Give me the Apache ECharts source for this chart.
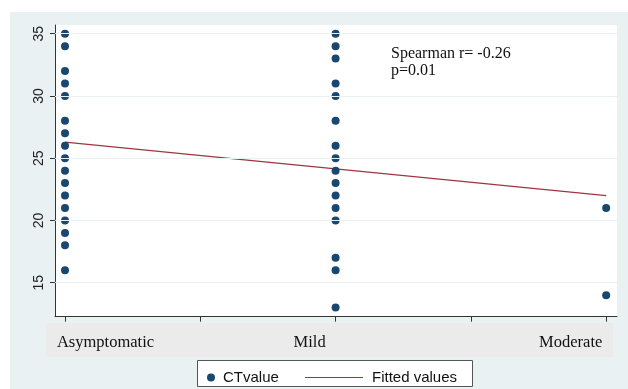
<!DOCTYPE html>
<html><head><meta charset="utf-8">
<script src="https://cdn.jsdelivr.net/npm/echarts@6/dist/echarts.min.js"></script>
<style>html,body{margin:0;padding:0;background:#fff}#c{width:628px;height:389px}</style>
</head><body><div id="c"></div>
<script>
const categories = ['Asymptomatic', 'Mild', 'Moderate'];
const asymptomaticCT = [35, 34, 32, 31, 30, 28, 27, 26, 25, 24, 23, 22, 21, 20, 19, 18, 16];
const mildCT = [35, 34, 33, 31, 30, 28, 26, 25, 24, 23, 22, 21, 20, 17, 16, 13];
const moderateCT = [21, 14];
const fittedX = [1, 3];
const fittedY = [26.3, 22.0];
const yTicks = [15, 20, 25, 30, 35];
const xTicks = [1, 1.5, 2, 2.5, 3];
const annotation = ['Spearman r= -0.26', 'p=0.01'];

const scatterData = [];
[asymptomaticCT, mildCT, moderateCT].forEach((arr, i) => arr.forEach(v => scatterData.push([i + 1, v])));
const fitData = fittedX.map((x, i) => [x, fittedY[i]]);
const labelStyleKeys = ['a', 'b', 'c'];
const labelFont = {fontFamily: 'Liberation Serif', fontSize: 16.5, color: '#111'};

const chart = echarts.init(document.getElementById('c'), null, {renderer: 'canvas'});
chart.setOption({
  backgroundColor: '#ffffff',
  animation: false,
  graphic: [
    {type: 'rect', z: -100, shape: {x: 10, y: 12, width: 618, height: 377}, style: {fill: '#e9f1f3'}},
    {type: 'rect', z: -50, shape: {x: 46, y: 323, width: 567, height: 34}, style: {fill: '#ebebeb'}},
    {type: 'rect', z: -40, shape: {x: 197.5, y: 360.5, width: 275, height: 26}, style: {fill: '#ffffff', stroke: '#555', lineWidth: 1}},
    {type: 'text', left: 391, top: 45, style: {text: annotation.join('\n'), font: '16px "Liberation Serif"', fill: '#111', lineHeight: 17}}
  ],
  grid: {left: 55, top: 25, right: 11, bottom: 72.3, show: true, backgroundColor: '#ffffff', borderWidth: 0,
    outerBoundsMode: 'none', containLabel: false},
  xAxis: {
    type: 'value', min: 0.963, max: 3.04,
    axisLine: {show: true, lineStyle: {color: '#333', width: 1}},
    axisTick: {show: true, length: 5, customValues: xTicks, lineStyle: {color: '#333'}},
    axisLabel: {customValues: [1, 2, 3], margin: 17, hideOverlap: false,
      formatter: v => { const i = Math.round(v) - 1; return categories[i] ? '{' + labelStyleKeys[i] + '|' + categories[i] + '}' : ''; },
      rich: {
        a: Object.assign({padding: [0, 0, 0, 81]}, labelFont),
        b: Object.assign({padding: [0, 52, 0, 0]}, labelFont),
        c: Object.assign({padding: [0, 71, 0, 0]}, labelFont)
      },
      ...labelFont},
    splitLine: {show: false}
  },
  yAxis: {
    type: 'value', min: 12.27, max: 35.7,
    axisLine: {show: true, lineStyle: {color: '#333', width: 1}},
    axisTick: {show: true, length: 5, customValues: yTicks, lineStyle: {color: '#333'}},
    axisLabel: {customValues: yTicks, rotate: 90, margin: 9, fontFamily: 'Liberation Sans', fontSize: 14, color: '#222'},
    splitLine: {show: false}
  },
  legend: [
    {data: [{name: 'CTvalue', icon: 'circle'}], left: 202, top: 365, itemWidth: 8, itemHeight: 8, itemGap: 0,
      textStyle: {fontFamily: 'Liberation Sans', fontSize: 15, color: '#111', padding: [0, 0, 0, 3]}},
    {data: [{name: 'Fitted values', icon: 'rect', itemStyle: {color: '#9e3541'}}], left: 300, top: 365, itemWidth: 58, itemHeight: 1.2,
      textStyle: {fontFamily: 'Liberation Sans', fontSize: 15, color: '#111', padding: [0, 0, 0, 4]}}
  ],
  series: [
    {name: 'grid', type: 'line', data: [], silent: true,
      markLine: {silent: true, symbol: 'none', label: {show: false},
        lineStyle: {color: '#eaf1f3', width: 1, type: 'solid'},
        data: yTicks.map(v => ({yAxis: v}))}},
    {name: 'CTvalue', type: 'scatter', data: scatterData, symbolSize: 8, itemStyle: {color: '#1a476f', opacity: 1}, z: 3},
    {name: 'Fitted values', type: 'line', data: fitData, showSymbol: false, symbol: 'none',
      lineStyle: {color: '#9e3541', width: 1.2}, itemStyle: {color: '#9e3541'}, z: 2}
  ]
});
</script></body></html>
